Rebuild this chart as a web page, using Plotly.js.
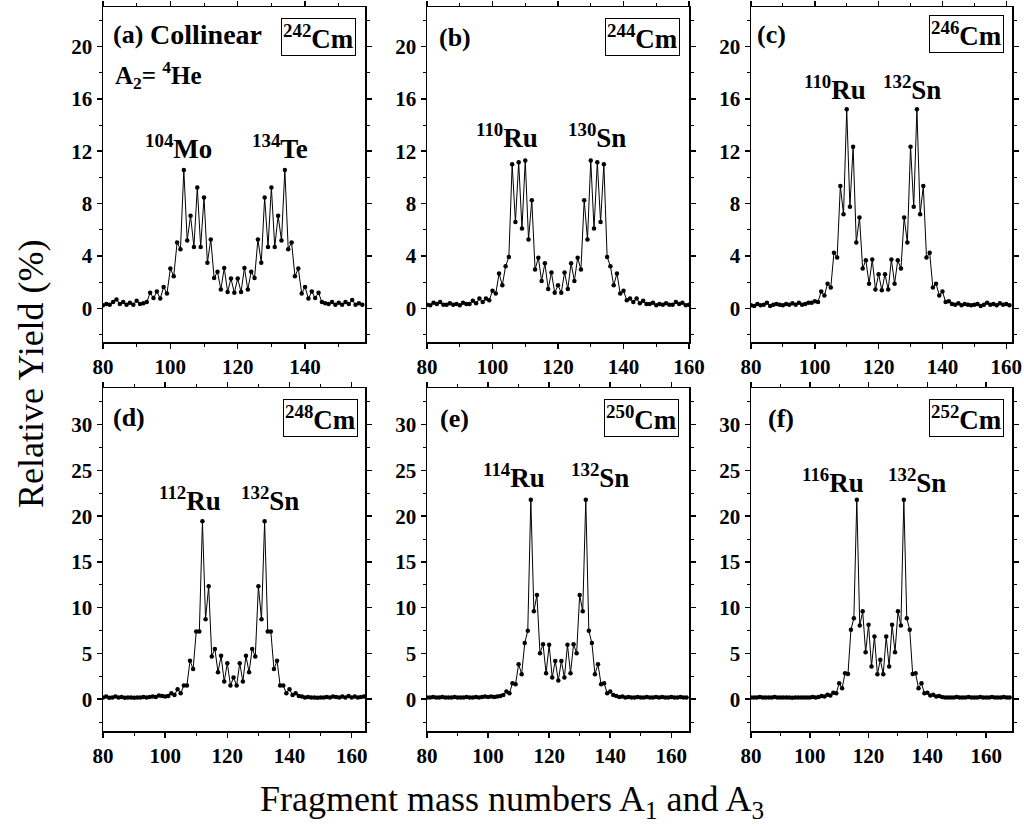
<!DOCTYPE html>
<html>
<head>
<meta charset="utf-8">
<script src="https://cdn.plot.ly/plotly-3.0.1.min.js"></script>
<style>html,body{margin:0;padding:0;background:#fff;}#chart{width:1024px;height:827px;}</style>
</head>
<body>
<div id="chart"></div>
<script>
// Fragment mass numbers (shared x values)
const massNumbers = [80,81,82,83,84,85,86,87,88,89,90,91,92,93,94,95,96,97,98,99,
  100,101,102,103,104,105,106,107,108,109,110,111,112,113,114,115,116,117,118,119,
  120,121,122,123,124,125,126,127,128,129,130,131,132,133,134,135,136,137,138,139,
  140,141,142,143,144,145,146,147,148,149,150,151,152,153,154,155,156,157,158,159,
  160,161,162,163,164,165,166,167,168];

// Relative yields (%) for each panel
const yield242Cm = [0.25,0.35,0.3,0.5,0.7,0.35,0.5,0.3,0.45,0.3,
  0.6,0.35,0.4,0.5,1.2,0.8,1.3,0.76,1.65,1.15,
  3.05,2.47,5.04,4.53,10.56,5.2,7.07,4.7,9.24,4.7,
  8.47,3.5,5.27,2.34,2.8,1.45,3.1,1.27,2.29,1.2,
  2.29,1.27,3.1,1.45,2.8,2.34,5.27,3.5,8.47,4.7,
  9.24,4.7,7.07,5.2,10.56,4.53,5.04,2.47,3.05,1.15,
  1.65,0.76,1.3,0.8,1.2,0.5,0.4,0.35,0.5,0.3,
  0.45,0.3,0.5,0.35,0.65,0.3,0.4,0.3];
const yield244Cm = [0.3,0.25,0.45,0.35,0.5,0.3,0.3,0.4,0.3,0.35,
  0.25,0.45,0.35,0.35,0.6,0.4,0.76,0.5,0.76,0.64,
  1.35,1.15,2.67,1.78,3.23,3.94,11.0,6.6,11.15,6.1,
  11.3,5.27,8.27,2.98,3.87,2.11,3.45,1.5,2.75,1.2,
  1.78,1.2,2.75,1.5,3.45,2.11,3.87,2.98,8.27,5.27,
  11.3,6.1,11.15,6.6,11.0,3.94,3.23,1.78,2.67,1.15,
  1.35,0.64,0.76,0.5,0.76,0.4,0.6,0.35,0.35,0.45,
  0.25,0.35,0.3,0.4,0.3,0.3,0.5,0.35,0.45,0.25,
  0.3];
const yield246Cm = [0.25,0.2,0.35,0.25,0.3,0.45,0.2,0.3,0.35,0.3,
  0.25,0.35,0.3,0.4,0.3,0.45,0.3,0.35,0.45,0.45,
  0.55,0.5,1.3,1.0,1.9,1.6,4.25,3.9,9.34,7.2,
  15.2,7.76,12.34,5.04,6.95,3.05,3.69,1.9,3.74,1.45,
  2.62,1.4,2.62,1.45,3.74,1.9,3.69,3.05,6.95,5.04,
  12.34,7.76,15.2,7.2,9.34,3.9,4.25,1.6,1.9,1.0,
  1.3,0.5,0.55,0.35,0.3,0.4,0.25,0.35,0.3,0.25,
  0.3,0.35,0.2,0.3,0.45,0.3,0.35,0.25,0.4,0.3,
  0.35,0.25];
const yield248Cm = [0.2,0.3,0.15,0.2,0.3,0.2,0.25,0.15,0.2,0.2,
  0.15,0.2,0.2,0.25,0.2,0.25,0.3,0.25,0.4,0.35,
  0.3,0.36,0.66,0.47,1.1,0.66,1.5,1.5,4.2,3.3,
  7.4,7.4,19.44,8.75,12.33,4.67,5.5,2.95,4.74,1.93,
  3.94,1.5,2.37,1.5,3.94,1.93,4.74,2.95,5.5,4.67,
  12.33,8.75,19.44,7.4,7.4,3.3,4.2,1.5,1.5,0.66,
  1.1,0.47,0.66,0.36,0.3,0.2,0.25,0.2,0.2,0.15,
  0.2,0.2,0.25,0.2,0.3,0.25,0.2,0.3,0.2,0.35,
  0.2,0.3,0.2,0.25,0.3];
const yield250Cm = [0.2,0.2,0.25,0.2,0.2,0.25,0.2,0.2,0.2,0.25,
  0.2,0.2,0.2,0.25,0.2,0.2,0.25,0.2,0.25,0.3,
  0.25,0.3,0.25,0.3,0.35,0.47,0.84,0.66,1.75,1.64,
  3.83,2.74,6.13,7.48,21.8,9.6,11.4,5.03,6.0,2.84,
  5.94,2.37,4.19,2.04,4.19,2.37,5.94,2.84,6.0,5.03,
  11.4,9.6,21.8,7.48,6.13,2.74,3.83,1.64,1.75,0.66,
  0.84,0.47,0.35,0.25,0.3,0.2,0.25,0.2,0.2,0.25,
  0.2,0.2,0.25,0.2,0.2,0.25,0.2,0.25,0.2,0.2,
  0.25,0.2,0.2,0.25,0.2,0.2];
const yield252Cm = [0.2,0.2,0.2,0.25,0.2,0.2,0.2,0.2,0.25,0.2,
  0.2,0.2,0.2,0.2,0.15,0.2,0.2,0.2,0.2,0.2,
  0.2,0.25,0.2,0.25,0.35,0.3,0.5,0.4,0.7,0.66,
  1.75,1.2,2.84,2.77,7.59,8.86,21.8,8.06,9.6,5.14,
  8.13,3.57,6.86,2.74,4.3,2.74,6.86,3.57,8.13,5.14,
  9.6,8.06,21.8,8.86,7.59,2.77,2.84,1.2,1.75,0.66,
  0.7,0.4,0.5,0.3,0.35,0.25,0.2,0.2,0.2,0.2,
  0.25,0.2,0.2,0.2,0.25,0.2,0.2,0.2,0.25,0.2,
  0.2,0.2,0.25,0.2,0.2,0.2,0.25,0.2,0.2];

// Text labels
const panelLabels = ["(a)", "(b)", "(c)", "(d)", "(e)", "(f)"];
const nucleusLabels = ["<sup>242</sup>Cm", "<sup>244</sup>Cm", "<sup>246</sup>Cm", "<sup>248</sup>Cm", "<sup>250</sup>Cm", "<sup>252</sup>Cm"];
const lightFragLabels = ["<sup>104</sup>Mo", "<sup>110</sup>Ru", "<sup>110</sup>Ru", "<sup>112</sup>Ru", "<sup>114</sup>Ru", "<sup>116</sup>Ru"];
const heavyFragLabels = ["<sup>134</sup>Te", "<sup>130</sup>Sn", "<sup>132</sup>Sn", "<sup>132</sup>Sn", "<sup>132</sup>Sn", "<sup>132</sup>Sn"];
const yTopTicks = [0, 4, 8, 12, 16, 20];
const yBottomTicks = [0, 5, 10, 15, 20, 25, 30];

const W = 1024, H = 827;
const FONT = 'Liberation Serif, Times New Roman, serif';
const series = [yield242Cm, yield244Cm, yield246Cm, yield248Cm, yield250Cm, yield252Cm];

const cols = [[103, 365], [427, 689], [751, 1012]];
const rows = [[7, 342], [388, 731]];
const xRanges = [[80, 157.8], [80, 160], [80, 161.8], [80, 164.3], [80, 165.8], [80, 168.8]];
const yRanges = [[-2.55, 23.0], [-3.47, 34.0]];

const layout = {
  width: W, height: H,
  margin: {l: 0, r: 0, t: 0, b: 0},
  paper_bgcolor: '#fff', plot_bgcolor: '#fff',
  showlegend: false,
  font: {family: FONT, color: '#000'},
  annotations: []
};
const data = [];

function axisBase() {
  return {
    showgrid: false, zeroline: false, showline: true,
    linecolor: '#000', linewidth: 1.5, mirror: 'allticks',
    ticks: 'outside', ticklen: 5, tickwidth: 1.5, tickcolor: '#000',
    tickfont: {family: FONT, size: 21, color: '#000', weight: 'bold'},
    fixedrange: true
  };
}

for (let i = 0; i < 6; i++) {
  const r = Math.floor(i / 3), c = i % 3;
  const n = i + 1;
  const xs = n === 1 ? '' : String(n);
  const xa = axisBase();
  xa.domain = [cols[c][0] / W, cols[c][1] / W];
  xa.range = xRanges[i];
  xa.anchor = 'y' + xs;
  xa.tickmode = 'linear'; xa.tick0 = 80; xa.dtick = 20;
  xa.minor = {ticks: 'outside', ticklen: 3, tickwidth: 1, tickcolor: '#000', dtick: 10, tick0: 80};
  const ya = axisBase();
  ya.domain = [1 - rows[r][1] / H, 1 - rows[r][0] / H];
  ya.range = yRanges[r];
  ya.anchor = 'x' + xs;
  ya.tickmode = 'array';
  ya.tickvals = r === 0 ? yTopTicks : yBottomTicks;
  ya.minor = {ticks: 'outside', ticklen: 3, tickwidth: 1, tickcolor: '#000', dtick: r === 0 ? 2 : 2.5, tick0: 0};
  layout['xaxis' + xs] = xa;
  layout['yaxis' + xs] = ya;

  data.push({
    type: 'scatter', mode: 'lines+markers',
    x: massNumbers, y: series[i],
    xaxis: 'x' + xs, yaxis: 'y' + xs,
    line: {color: '#000', width: 1},
    marker: {color: '#000', size: 4.5},
    hoverinfo: 'skip'
  });
}

function ann(text, x, y, size, opts) {
  return Object.assign({
    text: text, xref: 'paper', yref: 'paper', x: x / W, y: 1 - y / H,
    showarrow: false, xanchor: 'center', yanchor: 'middle',
    font: {family: FONT, size: size, color: '#000', weight: 'bold'}
  }, opts || {});
}

const letterPos = [[111, 34], [437, 37], [755, 35], [111, 417], [438, 418], [766, 418]];
const boxPos = [[318, 37], [642, 37], [966, 34], [320, 418], [641, 418], [966, 418]];
const lightPos = [[178, 147], [507, 136], [835, 88], [190, 499], [514, 476], [833, 481]];
const heavyPos = [[280, 147], [597, 136], [912, 88], [270, 499], [600, 476], [917, 481]];
for (let i = 0; i < 6; i++) {
  layout.annotations.push(ann(panelLabels[i], letterPos[i][0], letterPos[i][1], 26, {xanchor: 'left'}));
  layout.annotations.push(ann(nucleusLabels[i], boxPos[i][0], boxPos[i][1], 27,
    {bordercolor: '#000', borderwidth: 1, borderpad: 1, bgcolor: '#fff'}));
  layout.annotations.push(ann(lightFragLabels[i], lightPos[i][0], lightPos[i][1], 27));
  layout.annotations.push(ann(heavyFragLabels[i], heavyPos[i][0], heavyPos[i][1], 27));
}
layout.annotations.push(ann('Collinear', 148, 34, 28, {xanchor: 'left'}));
layout.annotations.push(ann('A<sub>2</sub>= <sup>4</sup>He', 113, 75, 25, {xanchor: 'left'}));

layout.annotations.push({
  text: 'Relative Yield (%)', xref: 'paper', yref: 'paper', x: 31 / W, y: 1 - 374 / H,
  textangle: -90, showarrow: false, xanchor: 'center', yanchor: 'middle',
  font: {family: FONT, size: 36, color: '#000'}
});
layout.annotations.push({
  text: 'Fragment mass numbers A<sub>1</sub> and A<sub>3</sub>', xref: 'paper', yref: 'paper',
  x: 512 / W, y: 1 - 801 / H,
  showarrow: false, xanchor: 'center', yanchor: 'middle',
  font: {family: FONT, size: 36, color: '#000'}
});

Plotly.newPlot('chart', data, layout, {staticPlot: true, displayModeBar: false});
</script>
</body>
</html>
